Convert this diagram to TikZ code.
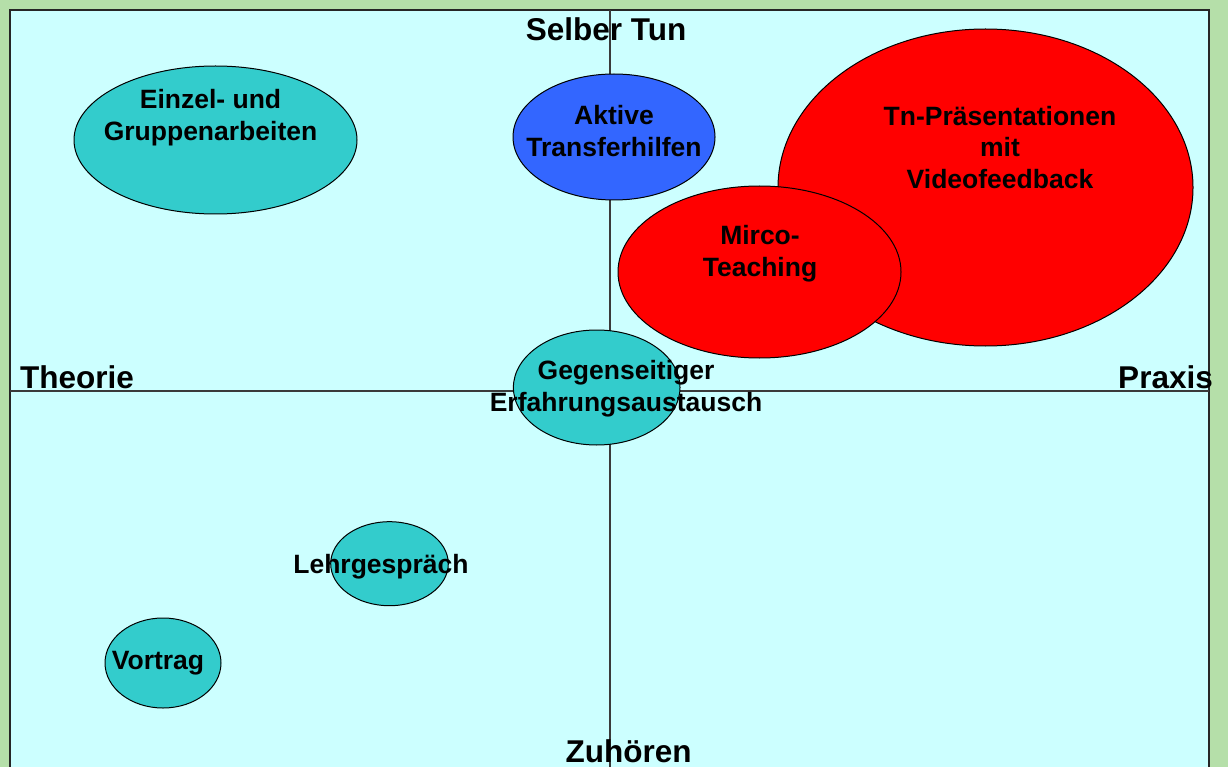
\documentclass[tikz,border=0pt]{standalone}
\usepackage{fontspec}
\setmainfont{Liberation Sans}
\usetikzlibrary{shapes.geometric}
\definecolor{bggreen}{HTML}{B5DFA9}
\definecolor{panelcyan}{HTML}{CCFFFF}
\definecolor{tealfill}{HTML}{33CCCC}
\definecolor{bluefill}{HTML}{3366FF}
\definecolor{redfill}{HTML}{FF0000}
\definecolor{axisgray}{HTML}{3A3A3A}
\tikzset{
  bubble/.style={ellipse, draw=black, line width=1pt, inner sep=0pt},
  lbl/.style={font=\fontsize{26.5}{31.7}\selectfont\bfseries, align=center, anchor=base, inner sep=0pt},
  axislbl/.style={font=\fontsize{31.5}{36}\selectfont\bfseries, anchor=base, inner sep=0pt},
  axisline/.style={draw=axisgray, line width=1.1pt}
}
\begin{document}
\begin{tikzpicture}[x=1pt,y=-1pt]
\useasboundingbox (0,0) rectangle (1228,767);
\fill[bggreen] (0,0) rectangle (1228,767);
\clip (0,0) rectangle (1228,767);
\coordinate (tl) at (10,10);
\coordinate (br) at (1209,790);
\draw[fill=panelcyan, draw=black!85, line width=1.6pt] (tl) rectangle (br);
% axes
\coordinate (vtop) at (610,10);
\coordinate (vbot) at (610,767);
\coordinate (hl) at (10,391);
\coordinate (hr) at (1209,391);
\draw[axisline] (vtop) -- (vbot);
\draw[axisline] (hl) -- (hr);
% bubbles
\node[bubble, fill=tealfill, minimum width=283pt, minimum height=148pt] (einzel) at (215.5,140) {};
\node[bubble, fill=bluefill, minimum width=202pt, minimum height=126pt] (aktive) at (614,137) {};
\node[bubble, fill=redfill, minimum width=415pt, minimum height=317pt] (tn) at (985.5,187.5) {};
\node[bubble, fill=redfill, minimum width=283pt, minimum height=172pt] (mirco) at (759.5,272) {};
\node[bubble, fill=tealfill, minimum width=166.6pt, minimum height=115pt] (gegen) at (596.7,387.5) {};
\node[bubble, fill=tealfill, minimum width=117.6pt, minimum height=84pt] (lehr) at (389.5,563.7) {};
\node[bubble, fill=tealfill, minimum width=116pt, minimum height=90pt] (vortrag) at (163,663) {};
% labels (base anchor = baseline of last line)
\node[lbl] (teinzel) at (210.5,140.5) {Einzel- und\\Gruppenarbeiten};
\node[lbl] (taktive) at (614,156.5) {Aktive\\Transferhilfen};
\node[lbl] (ttn) at (1000,188.5) {Tn-Präsentationen\\mit\\Videofeedback};
\node[lbl] (tmirco) at (760,276.5) {Mirco-\\Teaching};
\node[lbl] (tgegen) at (626,411.5) {Gegenseitiger\\Erfahrungsaustausch};
\node[lbl] (tlehr) at (381,573) {Lehrgespräch};
\node[lbl] (tvortrag) at (158,669) {Vortrag};
% axis labels
\node[axislbl] (selber) at (606,41) {Selber Tun};
\node[axislbl, anchor=base west] (theorie) at (20,388) {Theorie};
\node[axislbl, anchor=base east] (praxis) at (1213,388) {Praxis};
\node[axislbl] (zuhoeren) at (628.5,762) {Zuhören};
\end{tikzpicture}
\end{document}
